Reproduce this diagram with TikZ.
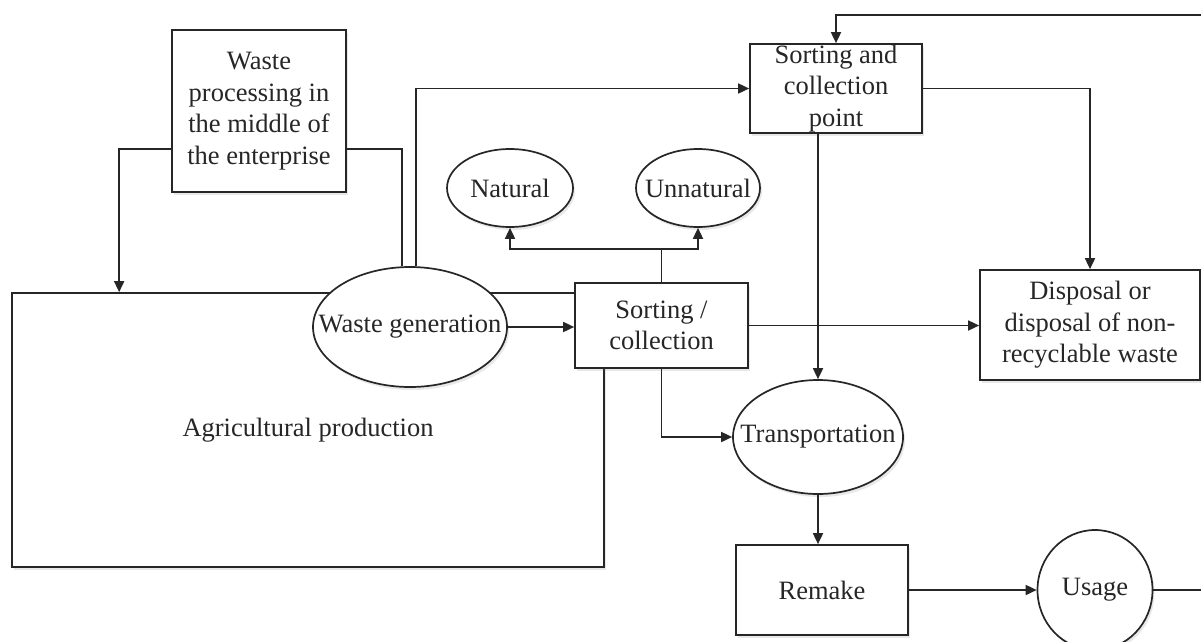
\documentclass[tikz,border=0pt]{standalone}
\usepackage{fontspec}
\setmainfont{Liberation Serif}
\usetikzlibrary{arrows.meta,shapes.geometric,shadows}
\begin{document}
\begin{tikzpicture}[x=1pt,y=-1pt,
  txt/.style={font=\fontsize{26.5}{31.5}\selectfont, align=center, inner sep=0pt, text=black!85},
  shad/.style={drop shadow={opacity=0.18, shadow xshift=2pt, shadow yshift=-3pt}},
  box/.style={draw=black!85, fill=white, line width=1.7pt, inner sep=0pt, shad, txt},
  oval/.style={draw=black!85, fill=white, ellipse, line width=1.7pt, inner sep=0pt, shad},
  conn/.style={line width=1.7pt, draw=black!85},
  arr/.style={conn, -{Triangle[length=11pt,width=10pt]}}]
\useasboundingbox (0,0) rectangle (1201,641);
\fill[white] (0,0) rectangle (1201,641);

% big rectangle
\node[box, minimum width=592pt, minimum height=274pt] (agri) at (308,430) {Agricultural production};

% nodes
\node[box, minimum width=174pt, minimum height=162pt] (wpe) at (259,111) {Waste\\processing in\\the middle of\\the enterprise};
\node[oval, minimum width=194pt, minimum height=120pt, label={[txt]center:Waste generation}] (wg) at (410,327) {};
\node[box, minimum width=173pt, minimum height=85pt] (sc) at (661.5,325.5) {Sorting /\\collection};
\node[oval, minimum width=126pt, minimum height=78pt, label={[txt]center:Natural}] (nat) at (510,188) {};
\node[oval, minimum width=124pt, minimum height=78pt, label={[txt]center:Unnatural}] (unnat) at (698,188) {};
\node[box, minimum width=172pt, minimum height=89pt] (scp) at (836,88.5) {Sorting and\\collection\\point};
\node[box, minimum width=220pt, minimum height=110pt] (disp) at (1090,325) {Disposal or\\disposal of non-\\recyclable waste};
\node[oval, minimum width=170pt, minimum height=114pt, label={[txt]center:Transportation}] (trans) at (818,437) {};
\node[box, minimum width=172pt, minimum height=90pt] (remake) at (822,590) {Remake};
\node[oval, minimum width=115pt, minimum height=120pt, label={[txt]center:Usage}] (usage) at (1095,590) {};

% connectors
\draw[arr] ([yshift=44pt]wpe.south west) -| ([xshift=108pt]agri.north west);
\draw[conn] ([yshift=44pt]wpe.south east) -| ([xshift=-8pt]wg.north);
\draw[arr] ([xshift=6pt]wg.north) |- (scp.west);
\draw[arr] (wg.east) -- (sc.west |- wg.east);
\draw[conn] (sc.north) -- ++(0,-33) coordinate (split);
\draw[arr] (split) -| (nat.south);
\draw[arr] (split) -| (unnat.south);
\draw[arr] (scp.east) -| (disp.north);
\draw[arr] (trans.north |- scp.south) -- (trans.north);
\draw[arr] (sc.east) -- (disp.west |- sc.east);
\draw[arr] (sc.south) |- (trans.west);
\draw[arr] (trans.south) -- (trans.south |- remake.north);
\draw[arr] (remake.east) -- (usage.west);
\draw[arr] (usage.east) -- ++(60,0) coordinate (fb) -- (fb |- 0,15) -| (scp.north);
\end{tikzpicture}
\end{document}
